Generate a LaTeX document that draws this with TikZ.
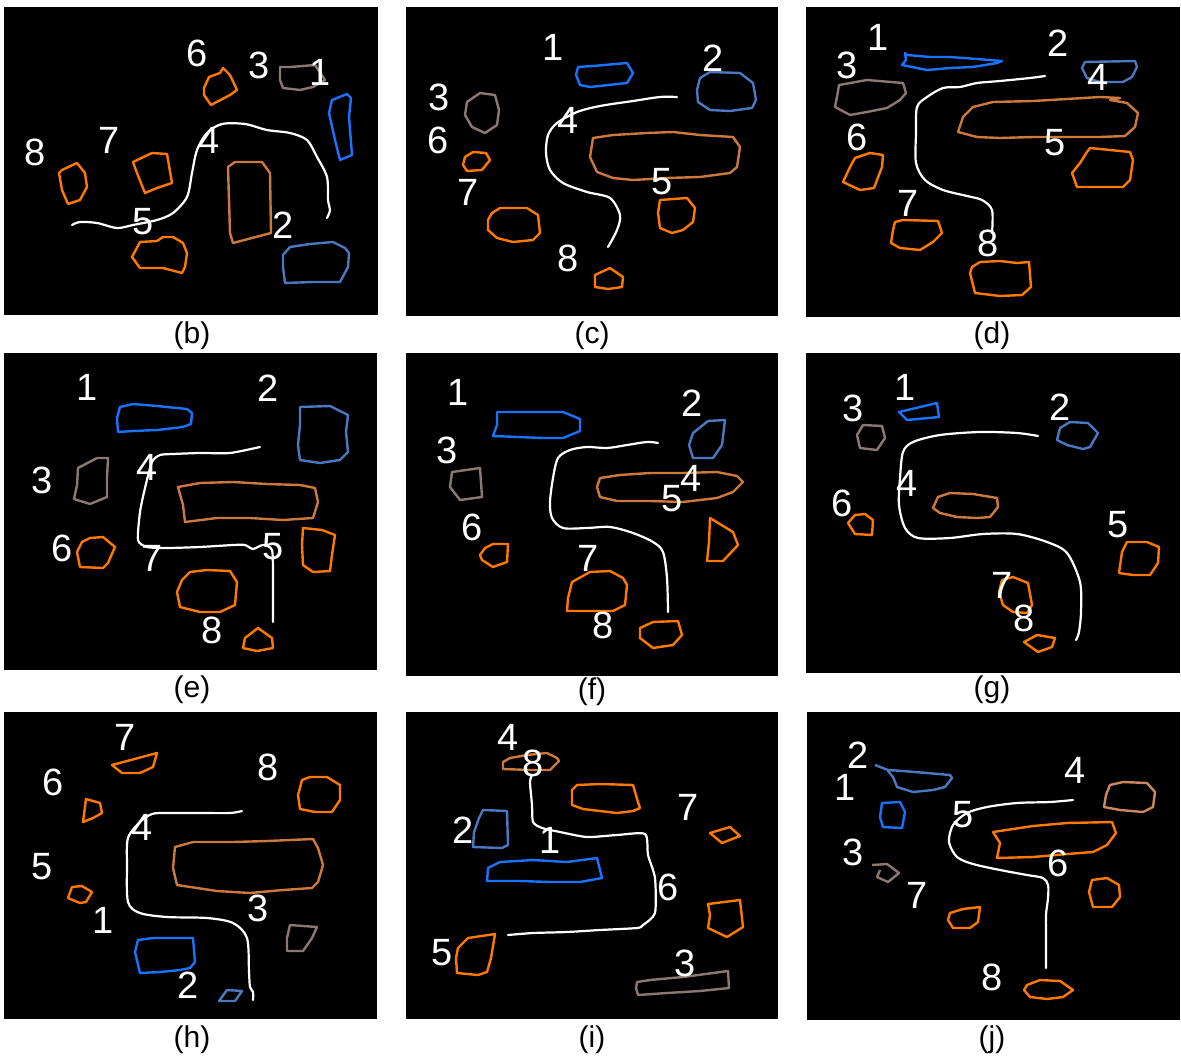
\documentclass[tikz,border=0pt]{standalone}
\usepackage{fontspec}
\setmainfont{Liberation Sans}
\usetikzlibrary{positioning}

\definecolor{objorange}{RGB}{255,120,0}
\definecolor{objtan}{RGB}{205,120,60}
\definecolor{objclay}{RGB}{205,135,95}
\definecolor{objblue}{RGB}{25,115,255}
\definecolor{objsteel}{RGB}{75,120,195}
\definecolor{objgrey}{RGB}{140,120,115}

\begin{document}
\begin{tikzpicture}[
  x=0.5pt, y=-0.5pt,
  every node/.style={inner sep=0pt},
  num/.style={text=white, font=\fontsize{19}{19}\selectfont},
  subcap/.style={font=\fontsize{15}{15}\selectfont},
  trail/.style={draw=white, line width=1.1pt, line join=round, line cap=round},
  blob/.style={line width=1.2pt, line join=round},
  orng/.style={blob, draw=objorange},
  tan/.style={blob, draw=objtan},
  clay/.style={blob, draw=objclay},
  blu/.style={blob, draw=objblue},
  sblu/.style={blob, draw=objsteel},
  gry/.style={blob, draw=objgrey}
]

\useasboundingbox (0,0) rectangle (1181,1059);
\fill[white] (0,0) rectangle (1181,1059);

%% --- Panels and captions --------------------------------------
\foreach \xa/\ya/\xb/\yb/\cx/\cy/\lab in {
    4/7/378/315/192/336/b, 406/7/778/316/592/336/c, 806/7/1180/317/992/336/d,
    4/353/377/670/192/690/e, 406/353/778/676/592/692/f, 806/353/1180/673/992/690/g,
    4/712/377/1019/192/1040/h, 406/712/778/1019/592/1040/i, 807/712/1180/1020/992/1040/j}{
  \fill[black] (\xa,\ya) rectangle (\xb,\yb);
  \node[subcap] (cap\lab) at (\cx,\cy) {(\lab)};
}

%% --- (b) -------------------------------------------------------
\draw[orng] (204,88) -- (209,77) -- (220,73) -- (223,68) -- (230,75) -- (237,90) -- (230,95) -- (211,105) -- (204,95) -- cycle;
\draw[gry] (280,67) -- (290,67) -- (315,65) -- (325,80) -- (313,87) -- (300,90) -- (283,88) -- (280,80) -- cycle;
\draw[blu] (332,100) -- (347,94) -- (351,98) -- (349,117) -- (352,155) -- (340,160) -- (335,140) -- (329,113) -- cycle;
\draw[orng] (62,170) -- (77,163) -- (85,173) -- (87,187) -- (80,200) -- (68,204) -- (62,190) -- (59,173) -- cycle;
\draw[orng] (133,162) -- (152,153) -- (167,154) -- (172,183) -- (157,188) -- (145,193) -- (137,173) -- cycle;
\draw[tan] (228,167) -- (235,162) -- (262,162) -- (270,173) -- (271,233) -- (233,243) -- (230,233) -- cycle;
\draw[orng] (132,257) -- (140,242) -- (157,241) -- (163,237) -- (173,237) -- (183,243) -- (187,253) -- (185,267) -- (182,273) -- (163,268) -- (140,268) -- cycle;
\draw[sblu] (283,255) -- (290,247) -- (310,244) -- (333,242) -- (345,248) -- (349,253) -- (348,267) -- (340,282) -- (313,282) -- (285,283) -- (283,267) -- cycle;
\draw[trail] plot[smooth, tension=0.5] coordinates {(72,225) (80,222) (97,223) (117,228) (133,225) (157,220) (173,213) (187,197) (192,173) (197,150) (207,133) (222,124) (245,124) (267,130) (290,133) (307,140) (317,157) (327,177) (328,200) (330,210) (327,218)};
\node[num] (b1) at (320,72) {1};
\node[num] (b2) at (283,225) {2};
\node[num] (b3) at (259,65) {3};
\node[num] (b4) at (209,140) {4};
\node[num] (b5) at (143,222) {5};
\node[num] (b6) at (197,53) {6};
\node[num] (b7) at (109,140) {7};
\node[num] (b8) at (35,152) {8};

%% --- (c) -------------------------------------------------------
\draw[blu] (578,67) -- (593,66) -- (627,63) -- (633,73) -- (627,83) -- (590,87) -- (580,85) -- (576,75) -- cycle;
\draw[sblu] (700,78) -- (710,72) -- (740,73) -- (753,83) -- (756,100) -- (752,108) -- (730,111) -- (710,110) -- (698,102) -- (697,90) -- cycle;
\draw[gry] (467,102) -- (480,93) -- (495,95) -- (499,110) -- (497,125) -- (485,133) -- (472,127) -- (465,115) -- cycle;
\draw[orng] (465,157) -- (473,152) -- (486,153) -- (490,160) -- (482,170) -- (467,171) -- (463,165) -- cycle;
\draw[tan] (593,138) -- (613,135) -- (647,133) -- (673,132) -- (700,135) -- (733,137) -- (740,147) -- (737,167) -- (730,173) -- (700,177) -- (667,178) -- (633,180) -- (613,178) -- (597,172) -- (590,157) -- cycle;
\draw[orng] (492,213) -- (500,208) -- (527,208) -- (538,215) -- (540,233) -- (533,240) -- (513,242) -- (497,238) -- (488,230) -- (488,220) -- cycle;
\draw[orng] (660,200) -- (687,198) -- (695,208) -- (693,222) -- (683,230) -- (672,233) -- (660,228) -- (658,213) -- cycle;
\draw[orng] (595,275) -- (610,268) -- (623,277) -- (622,287) -- (608,289) -- (595,287) -- cycle;
\draw[trail] plot[smooth, tension=0.5] coordinates {(677,97) (660,97) (633,101) (600,106) (577,112) (557,123) (548,135) (546,153) (550,170) (563,183) (587,192) (610,198) (620,215) (617,230) (608,247)};
\node[num] (c1) at (553,47) {1};
\node[num] (c2) at (713,58) {2};
\node[num] (c3) at (439,97) {3};
\node[num] (c4) at (568,120) {4};
\node[num] (c5) at (662,182) {5};
\node[num] (c6) at (438,140) {6};
\node[num] (c7) at (468,192) {7};
\node[num] (c8) at (568,258) {8};

%% --- (d) -------------------------------------------------------
\draw[blu] (905,53) -- (907,55) -- (930,57) -- (950,57) -- (977,59) -- (1002,61) -- (997,63) -- (973,67) -- (950,68) -- (927,70) -- (917,68) -- (902,65) -- (906,60) -- cycle;
\draw[sblu] (1085,62) -- (1135,61) -- (1137,67) -- (1132,77) -- (1123,82) -- (1100,82) -- (1087,78) -- (1082,68) -- cycle;
\draw[gry] (839,85) -- (867,80) -- (903,83) -- (906,93) -- (900,100) -- (887,108) -- (867,112) -- (850,115) -- (835,107) -- (837,97) -- cycle;
\draw[tan] (973,107) -- (993,102) -- (1033,101) -- (1067,99) -- (1100,97) -- (1120,98) -- (1110,100) -- (1127,103) -- (1138,113) -- (1135,127) -- (1125,136) -- (1100,137) -- (1067,137) -- (1033,137) -- (1000,138) -- (977,137) -- (958,132) -- (963,117) -- cycle;
\draw[orng] (855,158) -- (870,153) -- (883,155) -- (882,167) -- (874,188) -- (860,190) -- (843,182) -- (850,167) -- cycle;
\draw[orng] (1087,152) -- (1090,148) -- (1110,150) -- (1130,152) -- (1133,160) -- (1130,180) -- (1123,187) -- (1077,187) -- (1072,173) -- (1080,163) -- cycle;
\draw[orng] (895,222) -- (903,220) -- (938,221) -- (942,233) -- (933,242) -- (920,250) -- (900,248) -- (891,243) -- (893,230) -- cycle;
\draw[orng] (972,267) -- (980,262) -- (1000,261) -- (1017,263) -- (1029,262) -- (1031,287) -- (1022,295) -- (1000,296) -- (975,293) -- (970,273) -- cycle;
\draw[trail] plot[smooth, tension=0.5] coordinates {(1045,76) (1030,78) (1000,81) (977,83) (960,87) (943,88) (927,97) (917,107) (916,133) (916,163) (925,180) (943,190) (967,196) (982,200) (992,210) (992,233)};
\node[num] (d1) at (878,37) {1};
\node[num] (d2) at (1058,43) {2};
\node[num] (d3) at (847,65) {3};
\node[num] (d4) at (1098,77) {4};
\node[num] (d5) at (1055,143) {5};
\node[num] (d6) at (857,137) {6};
\node[num] (d7) at (908,203) {7};
\node[num] (d8) at (988,243) {8};

%% --- (e) -------------------------------------------------------
\draw[blu] (120,407) -- (133,404) -- (157,406) -- (187,409) -- (192,413) -- (191,424) -- (183,427) -- (157,430) -- (133,431) -- (118,432) -- (117,418) -- cycle;
\draw[sblu] (300,407) -- (330,406) -- (348,415) -- (346,432) -- (348,452) -- (340,460) -- (320,463) -- (300,460) -- (298,445) -- (300,425) -- cycle;
\draw[gry] (78,468) -- (97,458) -- (108,458) -- (107,478) -- (107,497) -- (90,504) -- (74,499) -- (77,485) -- cycle;
\draw[tan] (178,487) -- (200,483) -- (233,482) -- (267,484) -- (300,485) -- (315,488) -- (318,502) -- (313,518) -- (283,520) -- (250,518) -- (217,518) -- (185,522) -- (183,505) -- cycle;
\draw[orng] (82,542) -- (90,538) -- (103,537) -- (115,547) -- (108,563) -- (103,568) -- (80,567) -- (77,552) -- cycle;
\draw[orng] (303,528) -- (322,530) -- (335,535) -- (332,555) -- (330,571) -- (313,572) -- (303,565) -- (302,545) -- cycle;
\draw[orng] (182,580) -- (190,572) -- (207,570) -- (230,571) -- (237,582) -- (235,605) -- (220,612) -- (200,612) -- (180,607) -- (177,592) -- cycle;
\draw[orng] (245,638) -- (258,628) -- (272,638) -- (273,648) -- (257,651) -- (243,648) -- cycle;
\draw[trail] plot[smooth, tension=0.4] coordinates {(260,447) (230,453) (200,453) (173,454) (160,455) (152,462) (145,488) (140,512) (138,540) (147,547) (167,548) (200,547) (233,545) (245,545) (253,549) (263,545) (272,550) (273,578) (273,622)};
\node[num] (e1) at (87,387) {1};
\node[num] (e2) at (268,388) {2};
\node[num] (e3) at (42,480) {3};
\node[num] (e4) at (147,467) {4};
\node[num] (e5) at (273,547) {5};
\node[num] (e6) at (62,548) {6};
\node[num] (e7) at (152,558) {7};
\node[num] (e8) at (212,630) {8};

%% --- (f) -------------------------------------------------------
\draw[blu] (497,412) -- (563,412) -- (580,419) -- (580,431) -- (563,438) -- (543,438) -- (493,436) -- (497,425) -- cycle;
\draw[sblu] (708,421) -- (725,420) -- (722,445) -- (713,458) -- (693,458) -- (689,445) -- (693,433) -- cycle;
\draw[gry] (452,472) -- (480,468) -- (482,497) -- (460,500) -- (450,487) -- cycle;
\draw[tan] (600,478) -- (620,475) -- (650,473) -- (683,473) -- (717,472) -- (737,476) -- (743,482) -- (733,492) -- (717,498) -- (683,502) -- (650,501) -- (617,501) -- (600,497) -- (597,487) -- cycle;
\draw[orng] (485,548) -- (493,544) -- (508,544) -- (507,562) -- (493,567) -- (482,560) -- (480,555) -- cycle;
\draw[orng] (710,518) -- (733,532) -- (738,545) -- (723,561) -- (707,561) -- (709,542) -- cycle;
\draw[orng] (572,582) -- (590,572) -- (610,571) -- (623,578) -- (627,585) -- (625,605) -- (613,611) -- (567,611) -- (568,598) -- cycle;
\draw[orng] (640,628) -- (653,622) -- (678,621) -- (682,635) -- (673,645) -- (653,648) -- (640,638) -- cycle;
\draw[trail] plot[smooth, tension=0.5] coordinates {(658,443) (647,442) (627,445) (607,448) (587,447) (570,450) (558,458) (553,478) (550,502) (552,518) (563,528) (587,528) (610,527) (633,533) (653,542) (663,552) (667,578) (668,612)};
\node[num] (f1) at (458,392) {1};
\node[num] (f2) at (692,403) {2};
\node[num] (f3) at (447,450) {3};
\node[num] (f4) at (691,478) {4};
\node[num] (f5) at (672,499) {5};
\node[num] (f6) at (472,527) {6};
\node[num] (f7) at (588,558) {7};
\node[num] (f8) at (603,625) {8};

%% --- (g) -------------------------------------------------------
\draw[blu] (899,412) -- (937,403) -- (939,417) -- (907,420) -- cycle;
\draw[sblu] (1060,428) -- (1070,422) -- (1088,423) -- (1098,433) -- (1090,447) -- (1083,449) -- (1067,445) -- (1057,440) -- cycle;
\draw[gry] (863,425) -- (882,426) -- (885,438) -- (877,450) -- (860,448) -- (857,435) -- cycle;
\draw[tan] (938,497) -- (950,493) -- (973,494) -- (997,498) -- (998,507) -- (990,517) -- (977,518) -- (957,517) -- (940,513) -- (933,508) -- cycle;
\draw[orng] (855,515) -- (865,514) -- (873,520) -- (872,535) -- (855,534) -- (848,523) -- cycle;
\draw[orng] (1127,542) -- (1147,542) -- (1159,547) -- (1158,563) -- (1150,575) -- (1133,575) -- (1119,573) -- (1122,552) -- cycle;
\draw[orng] (1002,580) -- (1013,577) -- (1028,583) -- (1032,605) -- (1027,613) -- (1013,612) -- (1003,605) -- (999,592) -- cycle;
\draw[orng] (1024,642) -- (1037,635) -- (1055,638) -- (1052,647) -- (1038,652) -- cycle;
\draw[trail] plot[smooth, tension=0.5] coordinates {(1038,436) (1017,433) (980,432) (940,435) (913,442) (903,452) (900,478) (899,505) (905,528) (918,538) (950,538) (983,534) (1017,534) (1047,542) (1067,553) (1080,582) (1081,612) (1079,632) (1076,640)};
\node[num] (g1) at (905,387) {1};
\node[num] (g2) at (1060,407) {2};
\node[num] (g3) at (853,408) {3};
\node[num] (g4) at (907,483) {4};
\node[num] (g5) at (1118,525) {5};
\node[num] (g6) at (842,503) {6};
\node[num] (g7) at (1002,585) {7};
\node[num] (g8) at (1024,618) {8};

%% --- (h) -------------------------------------------------------
\draw[orng] (112,765) -- (157,753) -- (153,767) -- (140,773) -- (122,773) -- cycle;
\draw[orng] (86,799) -- (100,803) -- (102,813) -- (93,818) -- (83,822) -- cycle;
\draw[orng] (302,780) -- (310,777) -- (327,777) -- (340,785) -- (340,800) -- (332,812) -- (315,812) -- (300,809) -- (298,795) -- cycle;
\draw[tan] (175,847) -- (193,842) -- (233,842) -- (267,841) -- (313,839) -- (318,848) -- (323,865) -- (318,882) -- (312,888) -- (283,890) -- (250,893) -- (217,891) -- (177,885) -- (173,868) -- cycle;
\draw[orng] (72,887) -- (82,886) -- (92,892) -- (86,902) -- (80,903) -- (68,898) -- cycle;
\draw[blu] (138,940) -- (153,938) -- (193,938) -- (195,962) -- (190,968) -- (180,970) -- (160,972) -- (140,973) -- (135,952) -- cycle;
\draw[gry] (290,925) -- (317,927) -- (312,938) -- (303,951) -- (287,951) -- (287,938) -- cycle;
\draw[sblu] (227,990) -- (242,991) -- (235,1001) -- (219,1001) -- cycle;
\draw[trail] plot[smooth, tension=0.5] coordinates {(242,811) (230,813) (200,813) (167,813) (152,814) (140,822) (128,838) (127,865) (128,902) (140,913) (167,917) (207,918) (233,923) (247,938) (249,972) (250,987) (253,992) (253,1000)};
\node[num] (h1) at (103,920) {1};
\node[num] (h2) at (188,985) {2};
\node[num] (h3) at (258,908) {3};
\node[num] (h4) at (142,827) {4};
\node[num] (h5) at (42,867) {5};
\node[num] (h6) at (53,782) {6};
\node[num] (h7) at (125,737) {7};
\node[num] (h8) at (268,767) {8};

%% --- (i) -------------------------------------------------------
\draw[tan] (503,762) -- (510,758) -- (527,755) -- (547,753) -- (557,758) -- (559,761) -- (550,770) -- (530,770) -- (503,769) -- cycle;
\draw[orng] (572,790) -- (577,785) -- (600,784) -- (633,785) -- (638,802) -- (640,808) -- (633,811) -- (617,813) -- (583,809) -- (572,805) -- cycle;
\draw[sblu] (483,810) -- (507,811) -- (508,845) -- (502,848) -- (473,847) -- (474,832) -- (479,818) -- cycle;
\draw[blu] (488,868) -- (500,862) -- (533,860) -- (567,862) -- (597,858) -- (602,878) -- (580,882) -- (550,882) -- (520,881) -- (487,881) -- cycle;
\draw[orng] (710,833) -- (730,827) -- (740,836) -- (722,843) -- cycle;
\draw[orng] (708,904) -- (740,900) -- (743,927) -- (727,937) -- (708,928) -- (710,915) -- cycle;
\draw[orng] (458,948) -- (468,938) -- (495,934) -- (491,958) -- (487,972) -- (478,975) -- (457,973) -- (456,958) -- cycle;
\draw[gry] (637,982) -- (650,980) -- (683,977) -- (728,971) -- (729,988) -- (700,991) -- (667,993) -- (638,995) -- (636,988) -- cycle;
\draw[trail] plot[smooth, tension=0.4] coordinates {(532,775) (530,782) (532,805) (533,822) (542,828) (560,832) (587,837) (617,835) (645,834) (648,855) (655,878) (655,913) (643,925) (637,928) (600,930) (567,932) (533,933) (508,935)};
\node[num] (i1) at (550,840) {1};
\node[num] (i2) at (463,830) {2};
\node[num] (i3) at (685,963) {3};
\node[num] (i4) at (508,737) {4};
\node[num] (i5) at (442,953) {5};
\node[num] (i6) at (668,887) {6};
\node[num] (i7) at (688,807) {7};
\node[num] (i8) at (533,763) {8};

%% --- (j) -------------------------------------------------------
\draw[sblu] (875,765) -- (888,770) -- (903,771) -- (927,773) -- (950,775) -- (952,778) -- (945,787) -- (933,790) -- (913,792) -- (897,787) -- (893,777) -- (888,771);
\draw[blu] (882,803) -- (900,802) -- (905,812) -- (902,828) -- (883,827) -- (880,817) -- cycle;
\draw[clay] (1110,785) -- (1123,782) -- (1147,783) -- (1155,792) -- (1153,807) -- (1143,812) -- (1120,810) -- (1104,807) -- (1106,795) -- cycle;
\draw[orng] (993,832) -- (1033,826) -- (1067,823) -- (1112,822) -- (1116,833) -- (1107,845) -- (1093,852) -- (1067,854) -- (1033,857) -- (997,858) -- (1000,843) -- cycle;
\draw[gry] (872,865) -- (887,864) -- (899,873) -- (888,882) -- (877,877) -- (880,870);
\draw[orng] (950,913) -- (963,909) -- (980,907) -- (978,922) -- (970,928) -- (953,928) -- (948,920) -- cycle;
\draw[orng] (1092,880) -- (1107,878) -- (1119,885) -- (1120,897) -- (1112,907) -- (1093,907) -- (1089,892) -- cycle;
\draw[orng] (1027,985) -- (1040,980) -- (1060,981) -- (1073,990) -- (1063,997) -- (1047,999) -- (1030,997) -- (1024,990) -- cycle;
\draw[trail] plot[smooth, tension=0.5] coordinates {(1073,800) (1050,802) (1017,803) (987,807) (967,813) (953,825) (949,842) (957,857) (973,864) (1000,870) (1027,875) (1043,878) (1048,885) (1048,898) (1046,915) (1046,938) (1046,968)};
\node[num] (j1) at (845,787) {1};
\node[num] (j2) at (858,755) {2};
\node[num] (j3) at (853,852) {3};
\node[num] (j4) at (1075,770) {4};
\node[num] (j5) at (963,815) {5};
\node[num] (j6) at (1058,863) {6};
\node[num] (j7) at (917,895) {7};
\node[num] (j8) at (992,977) {8};

\end{tikzpicture}
\end{document}
